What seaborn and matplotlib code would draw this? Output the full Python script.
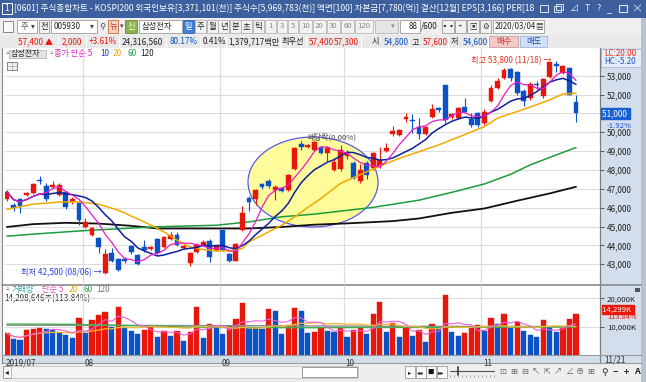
import numpy as np
import pandas as pd
import matplotlib
matplotlib.use("Agg")
import matplotlib.pyplot as plt
from matplotlib.patches import Rectangle, Ellipse
import matplotlib.transforms as mtransforms
import seaborn as sns

# ------------------------------------------------------------------ data
month_labels = ["2019/07", "08", "09", "10", "11"]
month_first_bar = [0, 12, 33, 52, 73]
last_date_label = "11/21"

opens = [46450, 46150, 46450, 46650, 46800, 47450, 47150, 47100, 46700, 46850,
         46300, 46250, 45000, 44550, 44400, 42550, 43600, 43300, 43300, 43950,
         43500, 43900, 43800, 44350, 43900, 44350, 44550, 43850, 43050, 43650,
         44050, 44250, 43750, 44800, 43550, 43200, 44800, 46500, 46450, 47250,
         47400, 46950, 47050, 46950, 48050, 49400, 49200, 49050, 49200, 48900,
         48000, 48050, 48750, 48350, 47400, 48350, 48100, 48200, 49000, 49900,
         49850, 50700, 50650, 50300, 49900, 50800, 51300, 52500, 50800, 50750,
         51350, 50700, 51000, 50500, 51650, 52350, 52900, 53350, 53200, 52200,
         51800, 52550, 51900, 52950, 53600, 53150, 53400, 51600]
highs = [46950, 46250, 46500, 46850, 47300, 47700, 47300, 47400, 47300, 46900,
         46550, 46300, 45450, 45000, 44450, 43800, 43850, 43350, 43400, 44050,
         43550, 44300, 43950, 44400, 44500, 44700, 44700, 44000, 43650, 44150,
         44300, 44350, 44050, 44800, 43600, 44150, 46100, 46600, 47000, 47300,
         47500, 47200, 47100, 47800, 49200, 49550, 49400, 49550, 49250, 49250,
         48650, 49300, 49050, 48500, 48300, 48500, 48950, 49200, 49450, 50350,
         50200, 51000, 50950, 50750, 50350, 51500, 51350, 52500, 51000, 51350,
         51800, 51000, 51100, 51250, 52500, 52900, 53400, 53400, 53250, 52300,
         52650, 52700, 52900, 53700, 53800, 53550, 53450, 52000]
lows = [46350, 45850, 45700, 46600, 46750, 47250, 46350, 47050, 46600, 45950,
        46200, 45100, 44900, 44500, 43600, 42500, 43100, 42650, 43050, 43550,
        42950, 43650, 43750, 43550, 43850, 44300, 43950, 43800, 42900, 43600,
        44000, 43100, 43700, 43700, 43100, 43150, 44750, 45800, 46150, 47000,
        47050, 46400, 46850, 46900, 48000, 49050, 49150, 49000, 48850, 48500,
        47950, 47950, 48600, 47500, 47300, 47500, 48000, 48100, 48950, 49800,
        49800, 50550, 49950, 49650, 49850, 50750, 51100, 50500, 50700, 50700,
        51050, 50300, 50300, 50400, 51600, 52300, 52850, 52700, 52000, 51400,
        51700, 52300, 51800, 52900, 53200, 53100, 51950, 50550]
closes = [46850, 46000, 46100, 46800, 47250, 47400, 46450, 47200, 47200, 46050,
          46450, 45350, 45250, 44950, 43900, 43550, 43200, 42700, 43150, 43650,
          43000, 43750, 43900, 43600, 44450, 44550, 44050, 43950, 43600, 44050,
          44200, 43400, 44000, 43750, 43200, 44100, 45700, 46300, 46950, 47100,
          47150, 47100, 46900, 47750, 49150, 49200, 49350, 49500, 48900, 49150,
          48450, 49050, 48900, 47600, 48000, 47750, 48900, 48550, 49150, 50050,
          50100, 50800, 50600, 49900, 50300, 51250, 51200, 50650, 50950, 51300,
          51100, 50400, 50400, 51100, 52350, 52700, 53300, 52900, 52100, 51650,
          52550, 52500, 52850, 53750, 53500, 53500, 52000, 51000]
volumes_k = [7600, 5500, 5400, 8800, 9200, 9400, 9000, 8900, 8200, 7000,
             5900, 12900, 7900, 12300, 14100, 15000, 10000, 16800, 10000, 8600,
             7400, 8800, 9700, 6200, 8600, 6700, 8600, 5000, 8200, 16800,
             5900, 10900, 10000, 7400, 10200, 12600, 18200, 10000, 9400, 9300,
             16200, 15500, 7300, 10600, 16400, 15500, 7600, 8000, 9400, 8600,
             8200, 9600, 6500, 8800, 9600, 7300, 14300, 18800, 8000, 11200,
             6500, 9400, 6800, 8800, 4700, 10900, 10000, 21100, 8000, 6700,
             7900, 9400, 10600, 8600, 13200, 10800, 14300, 9600, 11700, 8500,
             6900, 6500, 12300, 10000, 8000, 9400, 12560, 14299]

ma20_bars = [0, 4, 8, 11, 14, 17, 21, 24, 26, 28, 30, 32, 34, 36, 37, 39, 42,
             44, 46, 48, 51, 57, 60, 63, 66, 69, 73, 75, 78, 81, 83, 85, 87]
ma20_vals = [45910, 46190, 46300, 46310, 46190, 45870, 45250, 44720, 44280,
             43920, 43780, 43710, 43710, 43840, 44190, 44540, 45070, 45520,
             46020, 46490, 47290, 48210, 48620, 48970, 49330, 49740, 50300,
             50750, 51100, 51460, 51720, 52030, 52070]
ma60_bars = [0, 4, 9, 13, 18, 23, 32, 37, 42, 47, 56, 63, 69, 73, 77, 80, 84, 87]
ma60_vals = [44490, 44600, 44720, 44810, 44900, 44990, 45070, 45250, 45520,
             45660, 46020, 46400, 46900, 47260, 47770, 48270, 48800, 49190]
ma120_bars = [0, 4, 9, 14, 19, 23, 27, 33, 37, 42, 47, 52, 59, 63, 68, 73, 78, 83, 87]
ma120_vals = [44980, 45130, 45200, 45160, 45040, 44900, 44900, 44900, 44900,
              44980, 45100, 45170, 45290, 45430, 45730, 45960, 46370, 46760, 47110]
vol_ma60_bars = [0, 10, 20, 30, 45, 60, 75, 87]
vol_ma60_k = [10900, 10800, 10300, 9700, 9600, 9700, 9800, 9900]
vol_ma120_bars = [0, 20, 40, 60, 87]
vol_ma120_k = [10500, 10400, 10300, 10100, 10000]

price_ticks = [43000, 44000, 45000, 46000, 47000, 48000, 49000, 50000, 51000, 52000, 53000]
volume_ticks_k = [10000, 20000]

# ------------------------------------------------------------------ style
sns.set_theme(style="white")
plt.rcParams["font.family"] = ["Noto Sans CJK KR", "DejaVu Sans"]
plt.rcParams["axes.unicode_minus"] = False

UP = "#e8170c"
DOWN = "#0a52c6"
GRID = "#dcdcdc"
COL_BG = "#d3deec"

W, H = 646, 382
fig = plt.figure(figsize=(W / 100, H / 100), dpi=100)


def pax(x0, y0, x1, y1):
    return [x0 / W, 1 - y1 / H, (x1 - x0) / W, (y1 - y0) / H]


bg = fig.add_axes([0, 0, 1, 1], zorder=0)
bg.set_xlim(0, W)
bg.set_ylim(H, 0)
bg.axis("off")


def rect(x0, y0, x1, y1, fc, ec="none", lw=0.6, z=1):
    bg.add_patch(Rectangle((x0, y0), x1 - x0, y1 - y0, facecolor=fc,
                           edgecolor=ec, linewidth=lw, zorder=z))


def txt(x, y, s, c="#111111", fs=6.0, ha="left", va="center", z=5, **kw):
    bg.text(x, y, s, color=c, fontsize=fs, ha=ha, va=va, zorder=z, **kw)


# window background
rect(0, 0, W, H, "#ececec", z=0)
# title bar
rect(0, 0, W, 18, "#3d5f9d", z=1)
rect(2, 3, 12, 14, "#3d5f9d", ec="white", lw=0.7, z=2)
txt(7, 8.6, "1", "white", 6.0, ha="center")
txt(14, 8.8, "[0601] 주식종합차트 - KOSPI200 외국인보유[3,371,101(천)] 주식수[5,969,783(천)] "
             "액면[100] 자본금[7,780(억)] 결산[12월] EPS[3,166] PER[18", "white", 6.15)
rect(540, 5, 548, 12, "none", ec="#dfe6f2", lw=0.7, z=2)
rect(554, 6, 561, 12, "none", ec="#dfe6f2", lw=0.7, z=2)
rect(556, 4, 563, 10, "none", ec="#dfe6f2", lw=0.7, z=2)
txt(574, 8.8, "⊿", "#dfe6f2", 6.5, ha="center")
txt(587, 8.8, "T", "#dfe6f2", 6.5, ha="center")
txt(599, 8.8, "?", "#dfe6f2", 6.5, ha="center")
txt(610, 9.5, "_", "#dfe6f2", 7, ha="center")
rect(619, 5, 627, 12, "none", ec="#dfe6f2", lw=0.8, z=2)
txt(637, 8.8, "×", "#dfe6f2", 8, ha="center")

# toolbar row 1
rect(0, 18, W, 35, "#efefef", z=1)
rect(3, 21, 13, 32, "#f8f8f8", ec="#777777", lw=0.6, z=2)
rect(17, 20, 37, 33, "white", ec="#9a9a9a", z=2)
txt(21, 26.5, "주", "#555555", 6)
txt(33, 26.5, "▾", "#444444", 5.5, ha="center")
rect(39, 20, 49, 33, "#f4f4f4", ec="#9a9a9a", z=2)
txt(44, 26.5, "전", "#222222", 6, ha="center")
rect(51, 20, 97, 33, "white", ec="#9a9a9a", z=2)
txt(54, 26.5, "005930", "#222222", 5.8)
txt(92, 26.5, "▾", "#444444", 5.5, ha="center")
txt(102, 26.5, "⚲", "#444444", 6, ha="center")
rect(108, 20, 118, 33, "#f3d2c0", ec="#c86a3a", z=2)
txt(113, 26.5, "뉴", "#c0392b", 6, ha="center")
txt(122, 26.5, "▾", "#444444", 5, ha="center")
rect(125, 20, 137, 33, "#8bb34a", ec="#6a8d32", z=2)
txt(131, 26.5, "신", "white", 6, ha="center")
rect(139, 20, 182, 33, "white", ec="#9a9a9a", z=2)
txt(142, 26.5, "삼성전자", "#222222", 6)
rect(183, 20, 194, 33, "#3f7fd6", ec="#2c62b0", z=2)
txt(188.5, 26.5, "일", "white", 6, ha="center")
for i, s in enumerate(["주", "월", "년", "분", "초", "틱"]):
    x0 = 195 + i * 11.5
    rect(x0, 20, x0 + 11, 33, "#f2f2f2", ec="#b0b0b0", z=2)
    txt(x0 + 5.5, 26.5, s, "#222222", 6, ha="center")
for x0, x1, s in [(265, 276, "1"), (277, 287, "3"), (288, 298, "5"), (299, 312, "10"),
                  (313, 326, "20"), (327, 340, "30"), (341, 354, "60"), (355, 373, "120")]:
    rect(x0, 20, x1, 33, "#f2f2f2", ec="#b8b8b8", z=2)
    txt((x0 + x1) / 2, 26.5, s, "#888888", 5.6, ha="center")
rect(375, 20, 398, 33, "#e6e6e6", ec="#b8b8b8", z=2)
txt(393, 26.5, "▾", "#888888", 5, ha="center")
rect(400, 20, 420, 33, "white", ec="#9a9a9a", z=2)
txt(418, 26.5, "88", "#222222", 5.8, ha="right")
txt(421, 26.5, "/600", "#222222", 5.8)
for i, s in enumerate(["▪▪", "⌁", "▣", "⚙"]):
    x0 = 442 + i * 12.5
    rect(x0, 20, x0 + 11.5, 33, "#f2f2f2", ec="#9a9a9a", z=2)
    txt(x0 + 5.8, 26.5, s, "#333333", 5.5, ha="center")
rect(493, 20, 544, 33, "white", ec="#9a9a9a", z=2)
txt(495, 26.5, "2020/03/04", "#222222", 5.7)
txt(539, 26.5, "▦", "#444444", 5.5, ha="center")

# info row
rect(0, 35, W, 48, "#e9e9e9", z=1)
info = [(18, "57,400 ▲", UP), (62, "2,000", UP), (89, "+3.61%", UP),
        (122, "24,316,560", "#222222"), (170, "80.17%", DOWN), (203, "0.41%", "#222222"),
        (228, "1,379,717백만", "#222222"), (282, "최우선", "#222222"),
        (309, "57,400", UP), (334, "57,300", UP), (372, "시", "#222222"),
        (384, "54,800", DOWN), (412, "고", "#222222"), (423, "57,600", UP),
        (451, "저", "#222222"), (463, "54,600", DOWN)]
for xx, s, cc in info:
    txt(xx, 41.6, s, cc, 5.9)
for xs in (58, 86, 119, 166, 200, 226, 280, 306, 331, 361, 409, 448, 488):
    bg.plot([xs, xs], [36, 47], color="#ffffff", lw=0.8, zorder=2)
rect(489, 36, 518, 47, "#f5c8c8", ec="#c9a0a0", z=2)
txt(503.5, 41.6, "매수", "#c0392b", 6, ha="center")
rect(520, 36, 547, 47, "#cfe0f7", ec="#9fb6d6", z=2)
txt(533.5, 41.6, "매도", "#1f4fa8", 6, ha="center")

# chart white panel and side column
rect(2, 48, 600, 355, "white", z=1)
rect(600, 48, 641, 363, COL_BG, z=1)
rect(2, 355, 600, 363, COL_BG, z=1)
rect(641, 18, W, H, "#b9c3d0", z=1)
bg.plot([600, 600], [48, 363], color="#7d7d7d", lw=0.9, zorder=3)
bg.plot([2, 641], [284.5, 284.5], color="#8a8a8a", lw=1.2, zorder=3)
bg.plot([2, 641], [355, 355], color="#9a9a9a", lw=0.8, zorder=3)
bg.plot([2, 641], [363, 363], color="#9a9a9a", lw=0.8, zorder=3)
bg.plot([2, 2], [48, 363], color="#8a8a8a", lw=0.8, zorder=3)

# legend rows
txt(3.5, 53.5, "▫", "#555555", 5.5)
rect(9, 49.5, 46, 57.5, "#e3e3e3", ec="#a8a8a8", lw=0.5, z=2)
txt(11, 53.6, "삼성전자", "#333333", 5.8)
txt(47, 53.5, "▫", "#555555", 5.5)
for xx, s, cc in [(54, "종가 단순 5", "#e020c0"), (100, "10", "#1a3cc8"), (113, "20", "#f0a800"),
                  (127, "60", "#20a040"), (140, "120", "#222222")]:
    txt(xx, 53.6, s, cc, 5.9)
rect(7, 62, 17, 70, "#f0f0f0", ec="#707070", lw=0.6, z=2)
bg.plot([7, 17], [66, 66], color="#909090", lw=0.4, zorder=3)
bg.plot([12, 12], [62, 70], color="#909090", lw=0.4, zorder=3)

txt(3.5, 289.5, "▫", "#555555", 5.5)
for xx, s, cc in [(12, "거래량", "#2aa6a6"), (42, "단순 5", "#e84fd0"), (69, "20", "#f0a800"),
                  (83, "60", "#30a050"), (96, "120", "#777777")]:
    txt(xx, 289.8, s, cc, 5.9)
txt(4, 298.8, "14,298,646주(113.84%)", "#333333", 5.8)

# bottom scroll / tool bar
rect(2, 364, 641, 381, "#eeeeee", z=1)
rect(3, 366, 11, 378, "#f6f6f6", ec="#8c8c8c", lw=0.6, z=2)
txt(7, 372, "◂", "#222222", 5.5, ha="center")
rect(11, 366, 358, 378, "#f4f4f4", ec="#bbbbbb", lw=0.5, z=2)
rect(302, 367, 357, 377, "white", ec="#8c8c8c", lw=0.6, z=3)
for i, s in enumerate(["▸", "◂◂", "■", "▸▸"]):
    x0 = 405 + i * 10.5
    rect(x0, 366, x0 + 10, 378, "#f8f8f8", ec="#8c8c8c", lw=0.5, z=2)
    txt(x0 + 5, 372, s, "#111111", 4.6, ha="center")
bg.plot([450, 494], [371, 371], color="#555555", lw=0.8, zorder=3)
bg.plot([458, 458], [367, 375], color="#333333", lw=1.2, zorder=3)
for i in range(12):
    bg.plot([450 + i * 4, 450 + i * 4], [375, 377], color="#777777", lw=0.4, zorder=3)
for i, s in enumerate(["⊡", "⊞", "⊟", "↖", "⇱", "↗", "∠", "⊕", "⊞"]):
    txt(503 + i * 11, 372, s, "#666666", 6, ha="center")
for xx, s in [(605, "⚲"), (615, "−"), (626, "+"), (637, "A")]:
    txt(xx, 372, s, "#222222", 6.5, ha="center", fontweight="bold")

# ------------------------------------------------------------------ price panel
n = len(closes)
x = np.arange(n)
o = np.array(opens, float)
c = np.array(closes, float)
hi = np.array(highs, float)
lo = np.array(lows, float)
cols = np.where(c >= o, UP, DOWN)
df = pd.DataFrame({"bar": x, "close": c})
df["ma5"] = df["close"].rolling(5, min_periods=1).mean()
df["ma10"] = df["close"].rolling(10, min_periods=1).mean()

XL = ((5 - 7) / 6.54, (600 - 7) / 6.54)
PY0, PY1 = 48, 283
p_per_px = 53.02
ylo = 48000 - (PY1 - 170) * p_per_px
yhi = 48000 + (170 - PY0) * p_per_px

ax = fig.add_axes(pax(5, PY0, 600, PY1), zorder=2)
ax.set_facecolor("none")
ax.set_xlim(*XL)
ax.set_ylim(ylo, yhi)
for s in ax.spines.values():
    s.set_visible(False)
for t in price_ticks:
    ax.axhline(t, color=GRID, lw=0.8, zorder=0)
for b in month_first_bar[1:]:
    ax.axvline(b - 0.45, color=GRID, lw=0.9, zorder=0)
ax.yaxis.tick_right()
ax.set_yticks(price_ticks)
# the current-price box covers the 51,000 tick label in the reference
ax.set_yticklabels(["" if t == closes[-1] else f"{t:,}" for t in price_ticks],
                   fontsize=5.9, color="#222222")
ax.tick_params(axis="y", which="both", right=True, length=3, width=0.6, color="#444444", pad=2)
ax.tick_params(axis="x", bottom=False, labelbottom=False)

# yellow ellipse annotation
ell_cx = (313 - 7) / 6.54
ell = Ellipse((ell_cx, 48000 - (182 - 170) * p_per_px), 130 / 6.54, 90 * p_per_px,
              facecolor="#fdfb9a", edgecolor="#5a5ae6", lw=0.9, zorder=1)
ax.add_patch(ell)

# candles
ax.vlines(x, lo, hi, colors=cols, lw=0.8, zorder=3)
body_h = np.maximum(np.abs(c - o), 35)
ax.bar(x, body_h, bottom=np.minimum(o, c), width=0.74, color=cols, edgecolor=cols,
       lw=0.3, zorder=4)

# moving averages
sns.lineplot(x=ma120_bars, y=ma120_vals, ax=ax, color="#111111", lw=1.3, zorder=2, legend=False)
sns.lineplot(x=ma60_bars, y=ma60_vals, ax=ax, color="#1c9c3c", lw=1.1, zorder=2, legend=False)
sns.lineplot(x=ma20_bars, y=ma20_vals, ax=ax, color="#f2a900", lw=1.1, zorder=5, legend=False)
sns.lineplot(data=df, x="bar", y="ma10", ax=ax, color="#0f1f9c", lw=1.1, zorder=5, legend=False)
sns.lineplot(data=df, x="bar", y="ma5", ax=ax, color="#e61ec6", lw=0.9, zorder=6, legend=False)
ax.set_xlabel("")
ax.set_ylabel("")

# annotations
ax.text(45.9, 48000 + (170 - 137.5) * p_per_px, "배당락(0.00%)", fontsize=5.6,
        color="#444444", ha="left", va="center", zorder=7)
imax = int(np.argmax(hi))
ax.text(imax - 0.7, hi[imax] - 20, "최고 53,800 (11/18) →", fontsize=5.9,
        color="#e8301c", ha="right", va="center", zorder=7)
imin = int(np.argmin(lo))
ax.text(imin - 0.55, lo[imin] + 30, "최저 42,500 (08/06) →", fontsize=5.9,
        color="#3040e0", ha="right", va="center", zorder=7)

# right column price labels
tr = mtransforms.blended_transform_factory(ax.transAxes, ax.transData)
ax.text(1.004, c[-1], "51,000 ", fontsize=5.9, color="white", ha="left", va="center",
        transform=tr, zorder=8, clip_on=False,
        bbox=dict(boxstyle="square,pad=0.12", fc="#1660d2", ec="#1660d2"))
ax.text(1.012, c[-1] - 12.5 * p_per_px, "-1.92%", fontsize=5.6, color="#1a56c8",
        ha="left", va="center", transform=tr, zorder=8, clip_on=False)
rect(601, 49, 641, 67, "#e6edf7", ec="#9db3d6", lw=0.5, z=2)
txt(604, 53.5, "LC:20.00", "#e8301c", 5.8)
txt(604, 62, "HC:-5.20", "#1a56c8", 5.8)

# ------------------------------------------------------------------ volume panel
v = np.array(volumes_k, float)
vcols = [UP] + [UP if v[i] >= v[i - 1] else DOWN for i in range(1, n)]
vdf = pd.DataFrame({"bar": x, "vol": v})
vdf["v5"] = vdf["vol"].rolling(5, min_periods=1).mean()
vdf["v20"] = vdf["vol"].rolling(20, min_periods=1).mean()

VY0, VY1 = 285, 355
k_per_px = 1000 / 2.84
vax = fig.add_axes(pax(5, VY0, 600, VY1), zorder=2)
vax.set_facecolor("none")
vax.set_xlim(*XL)
vax.set_ylim(0, (VY1 - VY0) * k_per_px)
for s in vax.spines.values():
    s.set_visible(False)
for t in volume_ticks_k:
    vax.axhline(t, color=GRID, lw=0.8, zorder=0)
for b in month_first_bar[1:]:
    vax.axvline(b - 0.45, color=GRID, lw=0.9, zorder=0)
vax.bar(x, v, width=0.8, color=vcols, edgecolor=vcols, lw=0.3, zorder=3)
sns.lineplot(x=vol_ma120_bars, y=vol_ma120_k, ax=vax, color="#8c8c8c", lw=1.0, zorder=4, legend=False)
sns.lineplot(x=vol_ma60_bars, y=vol_ma60_k, ax=vax, color="#40b050", lw=1.0, zorder=4, legend=False)
sns.lineplot(data=vdf, x="bar", y="v20", ax=vax, color="#f5b830", lw=0.9, zorder=4, legend=False)
sns.lineplot(data=vdf, x="bar", y="v5", ax=vax, color="#f060d8", lw=0.8, zorder=5, legend=False)
vax.yaxis.tick_right()
vax.set_yticks(volume_ticks_k)
vax.set_yticklabels([f"{t:,}K" for t in volume_ticks_k], fontsize=5.6, color="#222222")
vax.tick_params(axis="y", right=True, length=3, width=0.6, color="#444444", pad=2)
vax.tick_params(axis="x", bottom=False, labelbottom=False)
vax.set_xlabel("")
vax.set_ylabel("")
vtr = mtransforms.blended_transform_factory(vax.transAxes, vax.transData)
vax.text(1.004, v[-1] + 5 * k_per_px, "14,299K ", fontsize=5.6, color="white", ha="left",
         va="center", transform=vtr, zorder=8, clip_on=False,
         bbox=dict(boxstyle="square,pad=0.1", fc="#e8170c", ec="#e8170c"))
vax.text(1.012, v[-1] - 2.2 * k_per_px, "113.84%", fontsize=5.4, color="#e8170c", ha="left",
         va="center", transform=vtr, zorder=8, clip_on=False)
rect(635, 288, 640, 292, "#555555", z=4)

# month labels in the date band
dtr = mtransforms.blended_transform_factory(vax.transData, vax.transAxes)
for b, s in zip(month_first_bar, month_labels):
    xpos = b - 0.45 + 0.25 if b > 0 else -0.2
    vax.text(xpos, -0.115, s, fontsize=5.9, color="#333333", ha="left", va="center",
             transform=dtr, clip_on=False)
txt(604, 359.5, last_date_label, "#333333", 5.9)

fig.savefig("out.png", dpi=100)
